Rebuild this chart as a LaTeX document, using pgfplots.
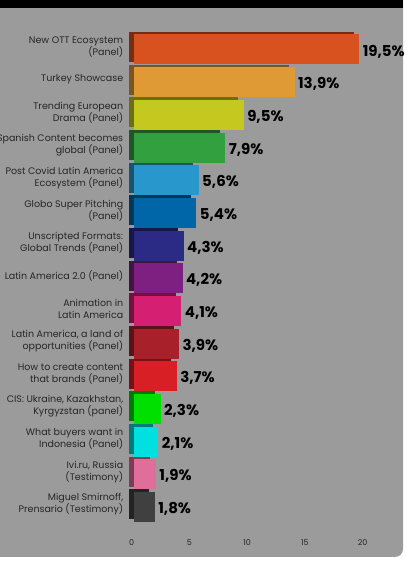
\documentclass[border=0pt]{standalone}
\usepackage{pgfplots}
\usepackage{pgfplotstable}
\pgfplotsset{compat=1.18}
\usepackage{fontspec}
\setmainfont{Poppins}

\definecolor{bg}{HTML}{9B9B9B}
\definecolor{txt}{HTML}{262626}
\definecolor{c0}{HTML}{D85220}
\definecolor{c1}{HTML}{E09A35}
\definecolor{c2}{HTML}{C5C81E}
\definecolor{c3}{HTML}{33A040}
\definecolor{c4}{HTML}{2898CC}
\definecolor{c5}{HTML}{0066A8}
\definecolor{c6}{HTML}{2B2A85}
\definecolor{c7}{HTML}{7D2082}
\definecolor{c8}{HTML}{D41F73}
\definecolor{c9}{HTML}{A8202A}
\definecolor{c10}{HTML}{D81F26}
\definecolor{c11}{HTML}{00E000}
\definecolor{c12}{HTML}{00E0E0}
\definecolor{c13}{HTML}{E06E9A}
\definecolor{c14}{HTML}{404040}

\pgfplotstableread{
idx val
0 19.5
1 13.9
2 9.5
3 7.9
4 5.6
5 5.4
6 4.3
7 4.2
8 4.1
9 3.9
10 3.7
11 2.3
12 2.1
13 1.9
14 1.8
}\data

\pgfplotsset{
  common/.style={
    scale only axis, width=231pt, height=490.2pt,
    xmin=0, xmax=20, ymin=-0.5, ymax=14.5, y dir=reverse,
    xbar, bar width=30pt, bar shift=0pt,
    axis line style={draw=none}, tick style={draw=none},
    anchor=south west, clip=false,
  }
}

\begin{document}
\begin{tikzpicture}[x=1pt,y=1pt]
\useasboundingbox (0,0) rectangle (409,561);
\clip (0,0) rectangle (409,561);
\fill[white] (0,0) rectangle (409,561);
\fill[bg, rounded corners=8pt] (-20,4) rectangle (403,590);
\fill[black] (-20,553) rectangle (403,590);

% back (depth) faces
\begin{axis}[common, at={(128.5pt,40.2pt)}, xtick=\empty, ytick=\empty]
\pgfplotsinvokeforeach{0,...,14}{
  \addplot[fill=c#1!55!black, draw=none, bar shift=0pt]
    table[x=val, y=idx, restrict expr to domain={\coordindex}{#1:#1}] {\data};
}
\end{axis}

% front faces
\begin{axis}[common, at={(134pt,37.65pt)},
  xtick={0,5,10,15,20},
  ytick={0,...,14},
  /pgf/number format/assume math mode=true,
  xticklabel style={font=\fontsize{8}{8}\selectfont, text=txt, xshift=-2.3pt, yshift=-13pt},
  yticklabel style={font=\fontsize{9.5}{12}\selectfont, text=txt, align=right, xshift=-3pt, yshift=2.5pt},
  yticklabels={
    {New OTT Ecosystem\\(Panel)},
    {Turkey Showcase},
    {Trending European\\Drama (Panel)},
    {Spanish Content becomes\\global (Panel)},
    {Post Covid Latin America\\Ecosystem (Panel)},
    {Globo Super Pitching\\(Panel)},
    {Unscripted Formats:\\Global Trends (Panel)},
    {Latin America 2.0 (Panel)},
    {Animation in\\Latin America},
    {Latin America, a land of\\opportunities (Panel)},
    {How to create content\\that brands (Panel)},
    {CIS: Ukraine, Kazakhstan,\\Kyrgyzstan (panel)},
    {What buyers want in\\Indonesia (Panel)},
    {Ivi.ru, Russia\\(Testimony)},
    {Miguel Smirnoff,\\Prensario (Testimony)}
  },
  point meta=x,
  nodes near coords={\pgfmathprintnumber[fixed, fixed zerofill, precision=1, use comma]{\pgfplotspointmeta}\%},
  nodes near coords style={font=\bfseries\fontsize{15}{15}\selectfont, text=black, anchor=west, xshift=0pt, yshift=-2pt},
]
\pgfplotsinvokeforeach{0,...,14}{
  \addplot[fill=c#1, draw=none, bar shift=0pt]
    table[x=val, y=idx, restrict expr to domain={\coordindex}{#1:#1}] {\data};
}
\end{axis}
\end{tikzpicture}
\end{document}
